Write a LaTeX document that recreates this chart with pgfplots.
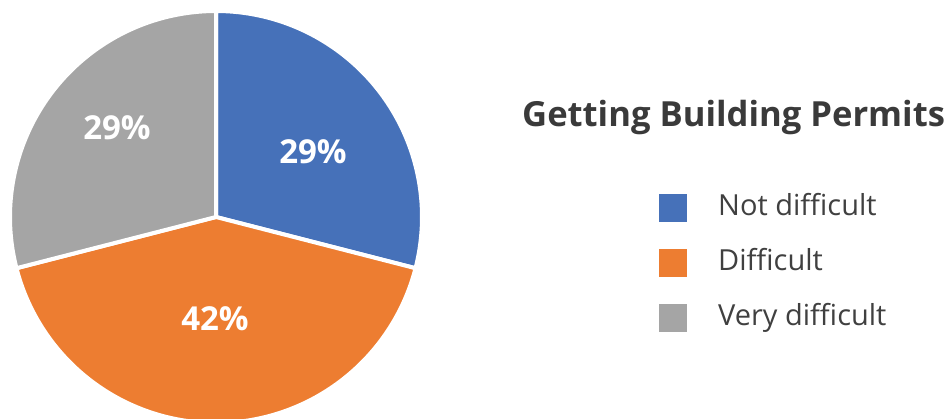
\documentclass[border=0pt]{standalone}
\usepackage{pgfplots}
\usepackage{pgfplotstable}
\pgfplotsset{compat=1.18}
\usepackage{fontspec}
\setmainfont{Open Sans}
\definecolor{cblue}{HTML}{4671B9}
\definecolor{corange}{HTML}{ED7D31}
\definecolor{cgray}{HTML}{A5A5A5}
\definecolor{ctitle}{HTML}{3A3A3A}
\definecolor{ctext}{HTML}{404040}

\pgfplotstableread{
value
29
42
29
}\piedata
\pgfplotstablegetelem{0}{value}\of\piedata \let\vA\pgfplotsretval
\pgfplotstablegetelem{1}{value}\of\piedata \let\vB\pgfplotsretval
\pgfplotstablegetelem{2}{value}\of\piedata \let\vC\pgfplotsretval
\pgfmathsetmacro{\aS}{90}
\pgfmathsetmacro{\aA}{90-3.6*\vA}
\pgfmathsetmacro{\aB}{\aA-3.6*\vB}
\pgfmathsetmacro{\aC}{\aB-3.6*\vC}

\begin{document}
\begin{tikzpicture}
\begin{axis}[
  name=ax,
  scale only axis,
  width=948pt, height=418pt,
  xmin=0, xmax=948, ymin=0, ymax=418,
  hide axis,
  clip=true,
]
\addplot[fill=cblue, draw=white, line width=4pt, domain=\aA:\aS, samples=120, variable=\t]
  ({216+206*cos(t)}, {201+206*sin(t)}) -- (axis cs:216,201) -- cycle;
\addplot[fill=corange, draw=white, line width=4pt, domain=\aB:\aA, samples=160, variable=\t]
  ({216+206*cos(t)}, {201+206*sin(t)}) -- (axis cs:216,201) -- cycle;
\addplot[fill=cgray, draw=white, line width=4pt, domain=\aC:\aB, samples=120, variable=\t]
  ({216+206*cos(t)}, {201+206*sin(t)}) -- (axis cs:216,201) -- cycle;

\node[text=white, font=\fontsize{33}{40}\selectfont\bfseries] at (axis cs:313,266) {\vA\%};
\node[text=white, font=\fontsize{33}{40}\selectfont\bfseries] at (axis cs:215,99) {\vB\%};
\node[text=white, font=\fontsize{33}{40}\selectfont\bfseries] at (axis cs:117,290) {\vC\%};

\node[anchor=base west, inner sep=0pt, text=ctitle, font=\fontsize{34.6}{40}\selectfont\bfseries] at (axis cs:522,291) {Getting Building Permits};

\fill[cblue] (axis cs:659,196) rectangle (axis cs:687,224);
\fill[corange] (axis cs:659,141) rectangle (axis cs:687,169);
\fill[cgray] (axis cs:659,86) rectangle (axis cs:687,114);
\node[anchor=base west, inner sep=0pt, text=ctext, font=\fontsize{29}{35}\selectfont] at (axis cs:718,202) {Not difficult};
\node[anchor=base west, inner sep=0pt, text=ctext, font=\fontsize{29}{35}\selectfont] at (axis cs:718,147) {Difficult};
\node[anchor=base west, inner sep=0pt, text=ctext, font=\fontsize{29}{35}\selectfont] at (axis cs:718,92) {Very difficult};
\end{axis}
\pgfresetboundingbox
\path (ax.south west) rectangle (ax.north east);
\end{tikzpicture}
\end{document}
